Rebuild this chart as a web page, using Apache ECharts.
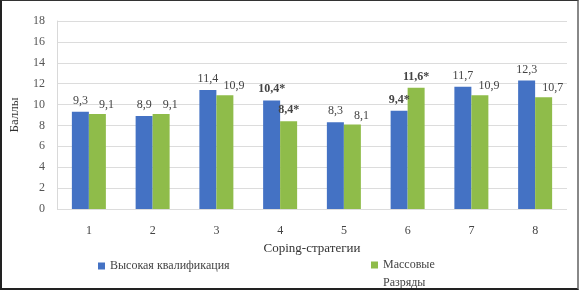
<!DOCTYPE html>
<html><head><meta charset="utf-8">
<script src="https://cdn.jsdelivr.net/npm/echarts@6/dist/echarts.min.js"></script>
<style>
html,body{margin:0;padding:0;background:#fff;}
#c{position:absolute;left:0;top:0;border-left:2px solid #222;border-bottom:2px solid #222;border-top:1px solid #333;border-right:2px solid #888;box-sizing:border-box;width:579px;height:290px;}
</style></head>
<body><div id="c"></div>
<script>
var categories = ['1','2','3','4','5','6','7','8'];
var highQual = [9.3, 8.9, 11.4, 10.4, 8.3, 9.4, 11.7, 12.3];
var massRank = [9.1, 9.1, 10.9, 8.4, 8.1, 11.6, 10.9, 10.7];
var highQualMarked = [false,false,false,true,false,true,false,false];
var massRankMarked = [false,false,false,true,false,true,false,false];
var yTicks = [0,2,4,6,8,10,12,14,16,18];

function fmt(v, marked){ return String(v.toFixed(1)).replace('.', ',') + (marked ? '*' : ''); }
function mk(vals, marks, plainOffset){
  return vals.map(function(v,i){
    var lab = {formatter: fmt(v, marks[i]), fontWeight: marks[i] ? 'bold' : 'normal'};
    if (plainOffset && !marks[i]) lab.offset = plainOffset;
    return {value:v, label:lab};
  });
}
var font = 'Liberation Serif';
var chart = echarts.init(document.getElementById('c'));
chart.setOption({
  animation:false,
  textStyle:{fontFamily:font},
  grid:{left:55, right:10, top:20, bottom:79, containLabel:false, outerBoundsMode:'none'},
  legend:[{
    top:259, left:96, padding:0, itemWidth:7, itemHeight:7, icon:'rect',
    textStyle:{fontFamily:font, fontSize:12, color:'#444'},
    data:[{name:'Высокая квалификация'}]
  },{
    top:255, left:369, padding:0, itemWidth:7, itemHeight:25,
    icon:'path://M0,0H7V7H0Z M0,25H0.01V25.01H0Z',
    textStyle:{fontFamily:font, fontSize:12, color:'#444', lineHeight:18},
    data:[{name:'Массовые\nРазряды'}]
  }],
  xAxis:{
    type:'category', data:categories,
    name:'Coping-стратегии', nameLocation:'middle', nameGap:24,
    nameTextStyle:{fontFamily:font, fontSize:13, color:'#333'},
    axisLine:{show:false}, axisTick:{show:false},
    axisLabel:{fontFamily:font, fontSize:12, color:'#444', margin:16}
  },
  yAxis:{
    type:'value', min:yTicks[0], max:yTicks[yTicks.length-1], interval:2,
    name:'Баллы', nameLocation:'middle', nameGap:36,
    nameTextStyle:{fontFamily:font, fontSize:13, color:'#333'},
    axisLine:{show:true, lineStyle:{color:'#d9d9d9'}},
    axisLabel:{fontFamily:font, fontSize:12, color:'#555', margin:12},
    splitLine:{lineStyle:{color:'#dcdcdc'}}
  },
  series:[
    {name:'Высокая квалификация', type:'bar', data:mk(highQual, highQualMarked),
     barWidth:17, barGap:'0%', itemStyle:{color:'#4472c4'},
     label:{show:true, position:'top', distance:5, fontFamily:font, fontSize:12, color:'#444'}},
    {name:'Массовые\nРазряды', type:'bar', data:mk(massRank, massRankMarked, [9,2]),
     barWidth:17, itemStyle:{color:'#8fbc4a'},
     label:{show:true, position:'top', distance:5, fontFamily:font, fontSize:12, color:'#444'}}
  ]
});
</script></body></html>
